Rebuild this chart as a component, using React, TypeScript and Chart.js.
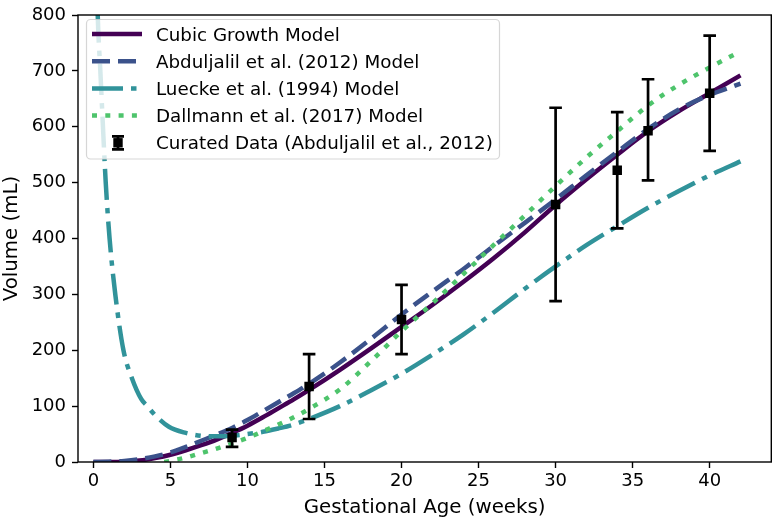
import React, { useEffect, useRef } from 'react';
import { Chart, registerables } from 'chart.js';

Chart.register(...registerables);

const FONT = "'DejaVu Sans', 'Liberation Sans', sans-serif";

// ---- data ----
const modelWeeks = [0, 1, 2, 3, 4, 5, 6, 7, 8, 9, 10, 11, 12, 13, 14, 16, 18, 20, 22, 24, 26, 28, 30, 32, 34, 36, 38, 40, 42];
const cubicVolume = [0, 0, 0.5, 2.5, 7, 13, 21, 30, 40, 52, 65, 80, 96, 112, 129, 165, 203, 242, 281, 322, 365, 411, 460, 506, 550, 592, 628, 660, 692];
const abduljalilVolume = [0, 0.5, 2, 5, 10, 17, 27, 38, 49, 61, 75, 91, 107, 123, 140, 178, 220, 264, 305, 345, 387, 428, 470, 513, 555, 596, 631, 657, 677];

const lueckeWeeks = [0.2, 0.28, 0.45, 0.62, 0.8, 1.05, 1.42, 1.95, 2.5, 3.1, 3.5, 4, 4.9, 6, 7, 8, 9, 10, 11, 12, 13, 14, 16, 18, 20, 22, 24, 26, 28, 30, 32, 34, 36, 38, 40, 42];
const lueckeVolume = [900, 800, 700, 600, 500, 400, 300, 200, 150, 113, 100, 84, 63, 52, 47, 46, 47, 50, 54, 60, 67, 77, 100, 128, 158, 192, 228, 268, 310, 350, 388, 422, 455, 485, 513, 538];

const dallmannWeeks = [4.6, 5, 6, 7, 8, 9, 10, 11, 12, 13, 14, 16, 18, 20, 22, 24, 26, 28, 30, 32, 34, 36, 38, 40, 42];
const dallmannVolume = [0, 2, 8, 16, 24, 33, 43, 55, 67, 80, 95, 130, 180, 234, 284, 336, 389, 441, 494, 545, 592, 638, 675, 706, 735];

const dataWeeks = [9, 14, 20, 30, 34, 36, 40];
const dataMean = [44, 135, 255, 461, 522, 593, 660];
const dataLow = [27, 77, 193, 288, 418, 504, 557];
const dataHigh = [58, 193, 317, 634, 626, 685, 763];

const xTickValues = [0, 5, 10, 15, 20, 25, 30, 35, 40];
const yTickValues = [0, 100, 200, 300, 400, 500, 600, 700, 800];

const seriesLabels = [
  'Cubic Growth Model',
  'Abduljalil et al. (2012) Model',
  'Luecke et al. (1994) Model',
  'Dallmann et al. (2017) Model',
  'Curated Data (Abduljalil et al., 2012)',
];

const COLORS = ['#440154', '#3b528b', '#31939a', '#4ec46c', '#000000'];
const DASHES: number[][] = [[], [18, 8], [31, 8, 5.5, 8], [5, 8.3]];
const LINE_W = 4.5;

const pts = (xs: number[], ys: number[]) => xs.map((x, i) => ({ x, y: ys[i] }));

const errorBarPlugin = {
  id: 'errorBars',
  beforeDatasetDraw(chart: any, args: any) {
    const ds = chart.data.datasets[args.index];
    if (ds.label !== seriesLabels[4]) return;
    const { ctx, scales } = chart;
    const xs = scales.x;
    const ys = scales.y;
    ctx.save();
    ctx.strokeStyle = '#000';
    ctx.lineWidth = 2.7;
    ctx.lineCap = 'butt';
    ctx.setLineDash([]);
    const half = 6.3;
    dataWeeks.forEach((w, i) => {
      const px = xs.getPixelForValue(w);
      const lo = ys.getPixelForValue(dataLow[i]);
      const hi = ys.getPixelForValue(dataHigh[i]);
      ctx.beginPath();
      ctx.moveTo(px, lo);
      ctx.lineTo(px, hi);
      ctx.moveTo(px - half, lo);
      ctx.lineTo(px + half, lo);
      ctx.moveTo(px - half, hi);
      ctx.lineTo(px + half, hi);
      ctx.stroke();
    });
    ctx.restore();
  },
};

const framePlugin = {
  id: 'frameAndLegend',
  afterDraw(chart: any) {
    const { ctx, chartArea } = chart;
    const { left, top, right, bottom } = chartArea;
    ctx.save();
    // spines
    ctx.strokeStyle = '#000';
    ctx.lineWidth = 1.4;
    ctx.setLineDash([]);
    ctx.strokeRect(left, top, right - left, bottom - top);

    // legend box
    const bx = 86.5, by = 19.5, bw = 413, bh = 139.5, r = 4;
    ctx.beginPath();
    ctx.moveTo(bx + r, by);
    ctx.lineTo(bx + bw - r, by);
    ctx.arcTo(bx + bw, by, bx + bw, by + r, r);
    ctx.lineTo(bx + bw, by + bh - r);
    ctx.arcTo(bx + bw, by + bh, bx + bw - r, by + bh, r);
    ctx.lineTo(bx + r, by + bh);
    ctx.arcTo(bx, by + bh, bx, by + bh - r, r);
    ctx.lineTo(bx, by + r);
    ctx.arcTo(bx, by, bx + r, by, r);
    ctx.closePath();
    ctx.fillStyle = 'rgba(255,255,255,0.8)';
    ctx.fill();
    ctx.strokeStyle = 'rgba(204,204,204,0.8)';
    ctx.lineWidth = 1.2;
    ctx.stroke();

    const rowY0 = 34;
    const rowStep = 27.2;
    const hx0 = 92, hx1 = 142;
    ctx.font = `18.3px ${FONT}`;
    ctx.textBaseline = 'alphabetic';
    ctx.textAlign = 'left';
    seriesLabels.forEach((label, i) => {
      const y = rowY0 + i * rowStep;
      if (i < 4) {
        ctx.beginPath();
        ctx.strokeStyle = COLORS[i];
        ctx.lineWidth = LINE_W;
        ctx.lineCap = 'butt';
        ctx.setLineDash(DASHES[i]);
        ctx.moveTo(hx0, y);
        ctx.lineTo(hx1, y);
        ctx.stroke();
        ctx.setLineDash([]);
      } else {
        const cx = 118;
        ctx.strokeStyle = '#000';
        ctx.lineWidth = 2.7;
        ctx.beginPath();
        ctx.moveTo(cx, y - 6.5);
        ctx.lineTo(cx, y + 6.5);
        ctx.moveTo(cx - 6, y - 6.5);
        ctx.lineTo(cx + 6, y - 6.5);
        ctx.moveTo(cx - 6, y + 6.5);
        ctx.lineTo(cx + 6, y + 6.5);
        ctx.stroke();
        ctx.fillStyle = '#000';
        ctx.fillRect(cx - 4.7, y - 4.7, 9.4, 9.4);
      }
      ctx.fillStyle = '#000';
      ctx.fillText(label, 156, y + 6.6);
    });
    ctx.restore();
  },
};

export default function App() {
  const canvasRef = useRef<HTMLCanvasElement | null>(null);

  useEffect(() => {
    document.body.style.margin = '0';
    const canvas = canvasRef.current;
    if (!canvas) return;

    const lineCommon = {
      type: 'line' as const,
      pointRadius: 0,
      pointHoverRadius: 0,
      borderWidth: LINE_W,
      borderCapStyle: 'butt' as const,
      fill: false,
      cubicInterpolationMode: 'monotone' as const,
    };

    const chart = new Chart(canvas, {
      type: 'line',
      data: {
        datasets: [
          {
            ...lineCommon,
            label: seriesLabels[0],
            data: pts(modelWeeks, cubicVolume),
            borderColor: COLORS[0],
            borderDash: DASHES[0],
            order: 4,
          },
          {
            ...lineCommon,
            label: seriesLabels[1],
            data: pts(modelWeeks, abduljalilVolume),
            borderColor: COLORS[1],
            borderDash: DASHES[1],
            order: 3,
          },
          {
            ...lineCommon,
            label: seriesLabels[2],
            data: pts(lueckeWeeks, lueckeVolume),
            borderColor: COLORS[2],
            borderDash: DASHES[2],
            order: 2,
          },
          {
            ...lineCommon,
            label: seriesLabels[3],
            data: pts(dallmannWeeks, dallmannVolume),
            borderColor: COLORS[3],
            borderDash: DASHES[3],
            order: 1,
          },
          {
            type: 'line',
            label: seriesLabels[4],
            data: pts(dataWeeks, dataMean),
            showLine: false,
            pointStyle: 'rect',
            pointRadius: 6.7,
            pointHoverRadius: 6.7,
            pointBorderWidth: 0,
            pointBackgroundColor: '#000',
            borderColor: '#000',
            backgroundColor: '#000',
            order: 0,
          } as any,
        ],
      },
      options: {
        animation: false,
        responsive: false,
        events: [],
        layout: { padding: { top: 9.5, right: 4, left: 0, bottom: 0 } },
        plugins: {
          legend: { display: false },
          tooltip: { enabled: false },
          title: { display: false },
        },
        scales: {
          x: {
            type: 'linear',
            min: -1,
            max: 44,
            afterBuildTicks: (scale: any) => {
              scale.ticks = xTickValues.map((v) => ({ value: v }));
            },
            afterFit: (scale: any) => {
              scale.height = 59;
            },
            grid: {
              drawOnChartArea: false,
              drawTicks: true,
              tickLength: 6,
              tickWidth: 1.4,
              tickColor: '#000',
            },
            border: { display: false },
            ticks: {
              color: '#000',
              font: { family: FONT, size: 18, lineHeight: 1 },
              padding: 4.5,
              maxRotation: 0,
              autoSkip: false,
              callback: (v: any) => String(v),
            },
            title: {
              display: true,
              text: 'Gestational Age (weeks)',
              color: '#000',
              font: { family: FONT, size: 19.8, lineHeight: 1.2 },
              padding: { top: 0, bottom: 1 },
            },
          },
          y: {
            type: 'linear',
            min: 0,
            max: 800,
            afterBuildTicks: (scale: any) => {
              scale.ticks = yTickValues.map((v) => ({ value: v }));
            },
            afterFit: (scale: any) => {
              scale.width = 78;
            },
            grid: {
              drawOnChartArea: false,
              drawTicks: true,
              tickLength: 6,
              tickWidth: 1.4,
              tickColor: '#000',
            },
            border: { display: false },
            ticks: {
              color: '#000',
              font: { family: FONT, size: 18, lineHeight: 1 },
              padding: 6,
              autoSkip: false,
              callback: (v: any) => String(v),
            },
            title: {
              display: true,
              text: 'Volume (mL)',
              color: '#000',
              font: { family: FONT, size: 19.8, lineHeight: 1.2 },
              padding: { top: 0, bottom: 0 },
            },
          },
        },
      },
      plugins: [errorBarPlugin, framePlugin],
    });

    return () => {
      chart.destroy();
    };
  }, []);

  return (
    <div style={{ width: 778, height: 521, position: 'relative', background: '#fff' }}>
      <canvas ref={canvasRef} width={778} height={521} style={{ width: 778, height: 521, display: 'block' }} />
    </div>
  );
}
